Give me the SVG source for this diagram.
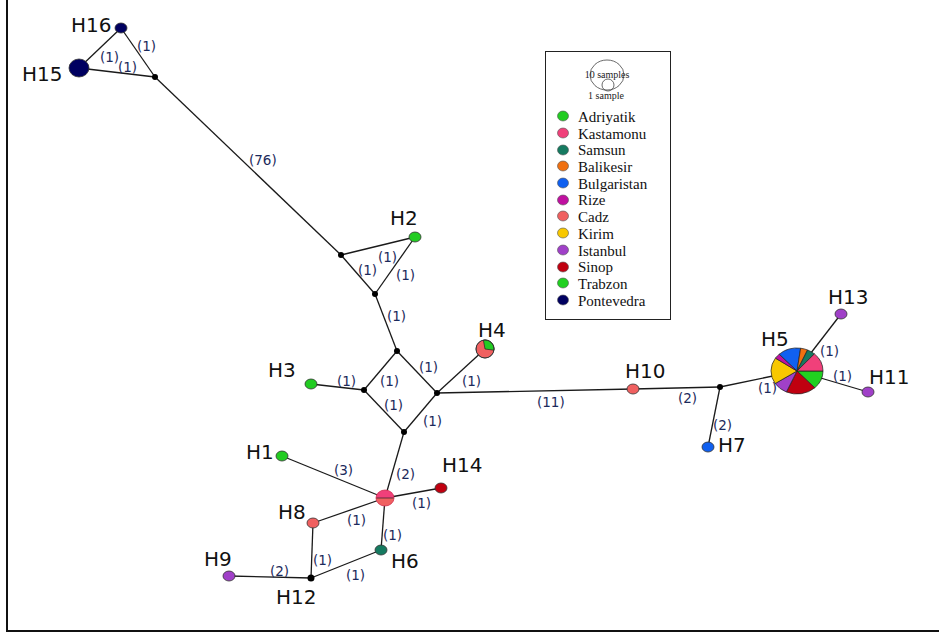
<svg xmlns="http://www.w3.org/2000/svg" width="939" height="634" viewBox="0 0 939 634">
  <style>
    .edge { stroke: #1a1a1a; stroke-width: 1.3; fill: none; }
    .node { stroke: #333; stroke-width: 0.8; }
    .hub { fill: #000; }
    .name { font-family: "DejaVu Sans", Verdana, sans-serif; font-size: 20px; fill: #111; }
    .w { font-family: "DejaVu Sans", Verdana, sans-serif; font-size: 13.5px; fill: #1c2a5c; }
    .leg { font-family: "Liberation Serif", "Times New Roman", serif; font-size: 15px; fill: #111; }
    .small { font-family: "Liberation Serif", "Times New Roman", serif; font-size: 10px; fill: #222; }
    .sep { stroke: #222; stroke-width: 0.7; }
  </style>
  <rect width="939" height="634" fill="#fff"/>
  <!-- frame -->
  <path d="M7,0 V631 H939" stroke="#111" stroke-width="2" fill="none"/>

  <g id="connectors">
    <line class="edge" x1="121" y1="28" x2="155" y2="77"/>
    <line class="edge" x1="121" y1="28" x2="79" y2="68"/>
    <line class="edge" x1="79" y1="68" x2="155" y2="77"/>
    <line class="edge" x1="155" y1="77" x2="341" y2="255"/>
    <line class="edge" x1="341" y1="255" x2="415" y2="237"/>
    <line class="edge" x1="341" y1="255" x2="375" y2="294"/>
    <line class="edge" x1="415" y1="237" x2="375" y2="294"/>
    <line class="edge" x1="375" y1="294" x2="397" y2="351"/>
    <line class="edge" x1="397" y1="351" x2="364" y2="390"/>
    <line class="edge" x1="397" y1="351" x2="437" y2="393"/>
    <line class="edge" x1="364" y1="390" x2="404" y2="432"/>
    <line class="edge" x1="437" y1="393" x2="404" y2="432"/>
    <line class="edge" x1="311" y1="384" x2="364" y2="390"/>
    <line class="edge" x1="437" y1="393" x2="485" y2="349"/>
    <line class="edge" x1="437" y1="393" x2="633" y2="389"/>
    <line class="edge" x1="633" y1="389" x2="720" y2="387"/>
    <line class="edge" x1="720" y1="387" x2="708" y2="447"/>
    <line class="edge" x1="720" y1="387" x2="797" y2="371"/>
    <line class="edge" x1="797" y1="371" x2="841" y2="314"/>
    <line class="edge" x1="797" y1="371" x2="868" y2="392"/>
    <line class="edge" x1="404" y1="432" x2="385" y2="498"/>
    <line class="edge" x1="282" y1="456" x2="385" y2="498"/>
    <line class="edge" x1="385" y1="498" x2="441" y2="488"/>
    <line class="edge" x1="385" y1="498" x2="313" y2="523"/>
    <line class="edge" x1="385" y1="498" x2="381" y2="550"/>
    <line class="edge" x1="313" y1="523" x2="311" y2="578"/>
    <line class="edge" x1="381" y1="550" x2="311" y2="578"/>
    <line class="edge" x1="229" y1="576" x2="311" y2="578"/>

    <!-- mutation counts -->
    <text class="w" x="137" y="51">(1)</text>
    <text class="w" x="100" y="62">(1)</text>
    <text class="w" x="118" y="72">(1)</text>
    <text class="w" x="249" y="165">(76)</text>
    <text class="w" x="378" y="262">(1)</text>
    <text class="w" x="358" y="275">(1)</text>
    <text class="w" x="396" y="280">(1)</text>
    <text class="w" x="387" y="321">(1)</text>
    <text class="w" x="337" y="386">(1)</text>
    <text class="w" x="380" y="386">(1)</text>
    <text class="w" x="419" y="372">(1)</text>
    <text class="w" x="384" y="410">(1)</text>
    <text class="w" x="423" y="426">(1)</text>
    <text class="w" x="462" y="386">(1)</text>
    <text class="w" x="537" y="407">(11)</text>
    <text class="w" x="678" y="403">(2)</text>
    <text class="w" x="713" y="430">(2)</text>
    <text class="w" x="758" y="393">(1)</text>
    <text class="w" x="820" y="356">(1)</text>
    <text class="w" x="833" y="381">(1)</text>
    <text class="w" x="396" y="479">(2)</text>
    <text class="w" x="334" y="475">(3)</text>
    <text class="w" x="412" y="508">(1)</text>
    <text class="w" x="347" y="525">(1)</text>
    <text class="w" x="383" y="540">(1)</text>
    <text class="w" x="313" y="565">(1)</text>
    <text class="w" x="346" y="580">(1)</text>
    <text class="w" x="270" y="576">(2)</text>
  </g>

  <!-- median vectors -->
  <g id="mv1"><circle class="hub" cx="155" cy="77" r="3"/></g>
  <g id="mv2"><circle class="hub" cx="341" cy="255" r="3"/></g>
  <g id="mv3"><circle class="hub" cx="375" cy="294" r="3"/></g>
  <g id="mv4"><circle class="hub" cx="397" cy="351" r="3"/></g>
  <g id="mv5"><circle class="hub" cx="364" cy="390" r="3"/></g>
  <g id="mv6"><circle class="hub" cx="437" cy="393" r="3"/></g>
  <g id="mv7"><circle class="hub" cx="404" cy="432" r="3"/></g>
  <g id="mv8"><circle class="hub" cx="720" cy="387" r="3"/></g>

  <!-- haplotypes -->
  <g id="H16"><ellipse class="node" cx="121" cy="28" rx="6" ry="5" fill="#000060"/><text class="name" x="71" y="32">H16</text></g>
  <g id="H15"><ellipse class="node" cx="79" cy="68" rx="10" ry="9" fill="#000060"/><text class="name" x="22" y="81">H15</text></g>
  <g id="H2"><ellipse class="node" cx="415" cy="237" rx="6" ry="5" fill="#22cc22"/><text class="name" x="390" y="225">H2</text></g>
  <g id="H3"><ellipse class="node" cx="311" cy="384" rx="6" ry="5" fill="#22cc22"/><text class="name" x="268" y="377">H3</text></g>
  <g id="H4">
    <circle class="node" cx="485" cy="349" r="9" fill="#f06060"/>
    <path d="M485,349 L483.4,340.1 A9,9 0 0 1 494,350.2 Z" fill="#22cc22" class="sep"/>
    <circle cx="485" cy="349" r="9" fill="none" stroke="#333" stroke-width="0.8"/>
    <text class="name" x="478" y="337">H4</text>
  </g>
  <g id="H10"><ellipse class="node" cx="633" cy="389" rx="6" ry="5" fill="#f06060"/><text class="name" x="625" y="378">H10</text></g>
  <g id="H7"><ellipse class="node" cx="708" cy="447" rx="6" ry="5" fill="#1060f0"/><text class="name" x="718" y="452">H7</text></g>
  <g id="H13"><ellipse class="node" cx="841" cy="314" rx="6" ry="5" fill="#a040c8"/><text class="name" x="828" y="304">H13</text></g>
  <g id="H11"><ellipse class="node" cx="868" cy="392" rx="6" ry="5" fill="#a040c8"/><text class="name" x="869" y="384">H11</text></g>
  <g id="H5">
    <g transform="translate(797,371) scale(26,23)" stroke="#222" stroke-width="0.03">
      <path d="M0,0 L1,0 A1,1 0 0 1 0.682,0.731 Z" fill="#20d020"/>
      <path d="M0,0 L0.682,0.731 A1,1 0 0 1 -0.407,0.914 Z" fill="#c00010"/>
      <path d="M0,0 L-0.407,0.914 A1,1 0 0 1 -0.839,0.545 Z" fill="#a040c8"/>
      <path d="M0,0 L-0.839,0.545 A1,1 0 0 1 -0.829,-0.559 Z" fill="#f8c800"/>
      <path d="M0,0 L-0.829,-0.559 A1,1 0 0 1 -0.682,-0.731 Z" fill="#c010a0"/>
      <path d="M0,0 L-0.682,-0.731 A1,1 0 0 1 0.139,-0.990 Z" fill="#1060f0"/>
      <path d="M0,0 L0.139,-0.990 A1,1 0 0 1 0.407,-0.914 Z" fill="#f07010"/>
      <path d="M0,0 L0.407,-0.914 A1,1 0 0 1 0.669,-0.743 Z" fill="#157a60"/>
      <path d="M0,0 L0.669,-0.743 A1,1 0 0 1 1,0 Z" fill="#f0407a"/>
    </g>
    <text class="name" x="761" y="346">H5</text>
  </g>
  <g id="H1"><ellipse class="node" cx="282" cy="456" rx="6" ry="5" fill="#22cc22"/><text class="name" x="246" y="459">H1</text></g>
  <g id="H14"><ellipse class="node" cx="441" cy="488" rx="6" ry="5" fill="#c00010"/><text class="name" x="442" y="472">H14</text></g>
  <g id="H8"><ellipse class="node" cx="313" cy="523" rx="6" ry="5" fill="#f06060"/><text class="name" x="278" y="519">H8</text></g>
  <g id="H6"><ellipse class="node" cx="381" cy="550" rx="6" ry="5" fill="#157a60"/><text class="name" x="391" y="568">H6</text></g>
  <g id="H9"><ellipse class="node" cx="229" cy="576" rx="6" ry="5" fill="#a040c8"/><text class="name" x="204" y="566">H9</text></g>
  <g id="H12"><circle class="hub" cx="311" cy="578" r="3.5"/><text class="name" x="276" y="604">H12</text></g>
  <g id="Hx">
    <path d="M376,498 A9,8 0 0 1 394,498 Z" fill="#f0407a"/>
    <path d="M376,498 A9,8 0 0 0 394,498 Z" fill="#f06060"/>
    <line class="sep" x1="376" y1="498" x2="394" y2="498"/>
    <ellipse cx="385" cy="498" rx="9" ry="8" fill="none" stroke="#d03050" stroke-width="0.8"/>
  </g>

  <!-- legend -->
  <g id="legend">
    <rect x="545.5" y="51.5" width="125" height="268" fill="#fff" stroke="#222" stroke-width="1"/>
    <ellipse cx="607" cy="75" rx="17" ry="15" fill="none" stroke="#444" stroke-width="0.8"/>
    <circle cx="608" cy="85" r="6" fill="none" stroke="#444" stroke-width="0.8"/>
    <text class="small" x="607" y="78" text-anchor="middle">10 samples</text>
    <text class="small" x="606" y="99" text-anchor="middle">1 sample</text>
    <g stroke="#555" stroke-width="0.6">
      <ellipse cx="563" cy="116" rx="5.5" ry="5" fill="#22cc22"/>
      <ellipse cx="563" cy="133" rx="5.5" ry="5" fill="#f0407a"/>
      <ellipse cx="563" cy="150" rx="5.5" ry="5" fill="#157a60"/>
      <ellipse cx="563" cy="166" rx="5.5" ry="5" fill="#f07010"/>
      <ellipse cx="563" cy="183" rx="5.5" ry="5" fill="#1060f0"/>
      <ellipse cx="563" cy="200" rx="5.5" ry="5" fill="#c010a0"/>
      <ellipse cx="563" cy="216" rx="5.5" ry="5" fill="#f06060"/>
      <ellipse cx="563" cy="233" rx="5.5" ry="5" fill="#f8c800"/>
      <ellipse cx="563" cy="250" rx="5.5" ry="5" fill="#a040c8"/>
      <ellipse cx="563" cy="267" rx="5.5" ry="5" fill="#c00010"/>
      <ellipse cx="563" cy="283" rx="5.5" ry="5" fill="#20d020"/>
      <ellipse cx="563" cy="300" rx="5.5" ry="5" fill="#000060"/>
    </g>
    <text class="leg" x="578" y="122">Adriyatik</text>
    <text class="leg" x="578" y="139">Kastamonu</text>
    <text class="leg" x="578" y="155">Samsun</text>
    <text class="leg" x="578" y="172">Balikesir</text>
    <text class="leg" x="578" y="189">Bulgaristan</text>
    <text class="leg" x="578" y="205">Rize</text>
    <text class="leg" x="578" y="222">Cadz</text>
    <text class="leg" x="578" y="239">Kirim</text>
    <text class="leg" x="578" y="256">Istanbul</text>
    <text class="leg" x="578" y="272">Sinop</text>
    <text class="leg" x="578" y="289">Trabzon</text>
    <text class="leg" x="578" y="306">Pontevedra</text>
  </g>
</svg>
